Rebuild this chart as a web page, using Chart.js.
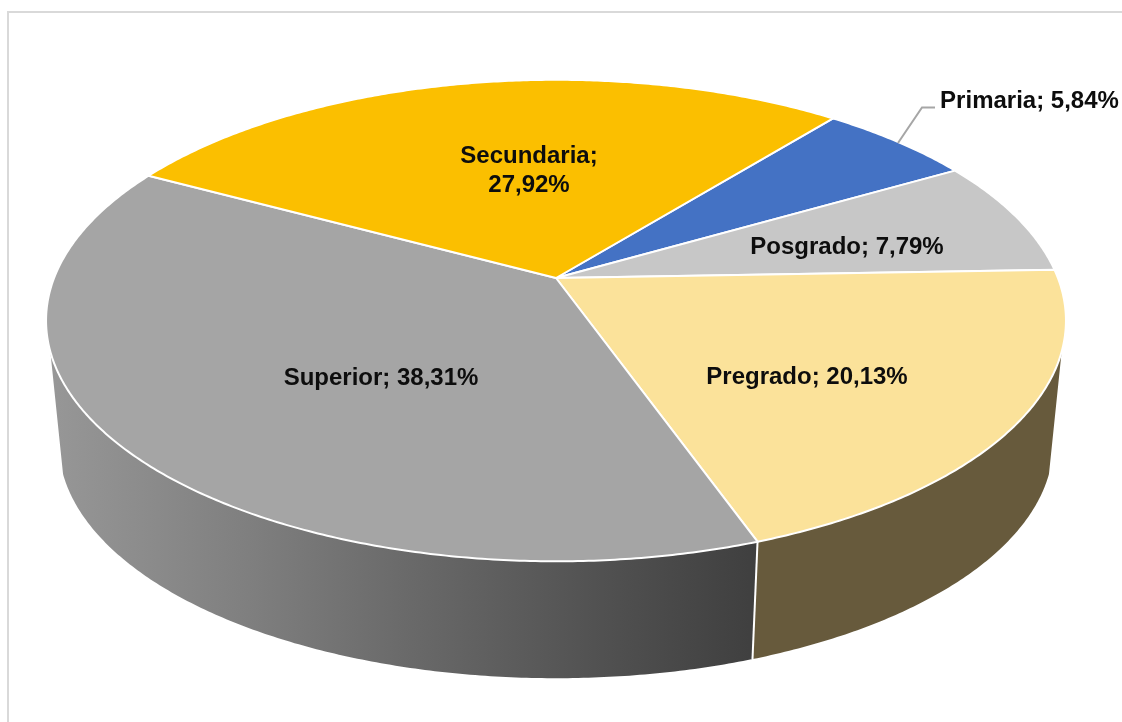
<!DOCTYPE html>
<html>
<head>
<meta charset="utf-8">
<style>html,body{margin:0;padding:0;background:#fff}canvas{display:block}</style>
<script src="https://cdn.jsdelivr.net/npm/chart.js@4"></script>
</head>
<body>
<canvas id="c" width="1122" height="722"></canvas>
<script>
const categories = ['Primaria', 'Posgrado', 'Pregrado', 'Superior', 'Secundaria'];
const shares = [5.84, 7.79, 20.13, 38.31, 27.92];
const topColors = ['#4472c4', '#c7c7c7', '#fbe29a', '#a5a5a5', '#fbbf00'];
const wallColors = ['#2f528f', '#858585', '#675a3c', null, '#b08600'];
const superiorWallStops = [[0, '#979797'], [0.28, '#7f7f7f'], [0.5, '#6a6a6a'], [0.78, '#515151'], [1, '#3f3f3f']];
const labelRows = [[101], [247], [377], [378], [156, 185]];
const labelCentersX = [1029.5, 847, 807, 381, 529];

// Perspective view of the pie disc
const view = {xScale: 1.812, yScale: 0.842, tilt: -0.1767,
               floorScale: 0.975, floorDrop: 124, rimLimit: 0.3};

function project(arc, angle, floor) {
  const u = Math.cos(angle), v = Math.sin(angle), w = 1 + view.tilt * v;
  const R = arc.outerRadius, s = floor ? view.floorScale : 1;
  return {
    x: arc.x + s * R * view.xScale * u / w,
    y: arc.y + (floor ? view.floorDrop : 0) + s * R * view.yScale * v / w
  };
}
function arcPoints(arc, a0, a1, floor) {
  const n = Math.max(2, Math.ceil(Math.abs(a1 - a0) / (Math.PI / 360)));
  const pts = [];
  for (let i = 0; i <= n; i++) pts.push(project(arc, a0 + (a1 - a0) * i / n, floor));
  return pts;
}
function tracePath(ctx, pts) {
  pts.forEach((p, i) => i ? ctx.lineTo(p.x, p.y) : ctx.moveTo(p.x, p.y));
  ctx.closePath();
}
function pctText(v) { return v.toFixed(2).replace('.', ',') + '%'; }

const pie3d = {
  id: 'pie3d',
  beforeDraw(chart) {
    const ctx = chart.ctx;
    ctx.save();
    ctx.fillStyle = '#fff';
    ctx.fillRect(0, 0, chart.width, chart.height);
    ctx.strokeStyle = '#d9d9d9';
    ctx.lineWidth = 2;
    ctx.beginPath();
    ctx.moveTo(8, chart.height);
    ctx.lineTo(8, 12);
    ctx.lineTo(chart.width, 12);
    ctx.stroke();
    ctx.restore();
  },
  beforeDatasetsDraw(chart) {
    const ctx = chart.ctx, arcs = chart.getDatasetMeta(0).data;
    const tau = Math.PI * 2;
    // visible front wall lies between the two silhouette generators
    const lim = Math.asin(view.rimLimit);
    const wallFrom = lim, wallTo = Math.PI - lim;
    ctx.save();
    ctx.lineJoin = 'round';
    arcs.forEach((arc, i) => {
      for (const turn of [-tau, 0, tau]) {
        const start = arc.startAngle + turn, end = arc.endAngle + turn;
        const a0 = Math.max(start, wallFrom);
        const a1 = Math.min(end, wallTo);
        if (a1 <= a0) continue;
        const rim = arcPoints(arc, a0, a1, false);
        const floor = arcPoints(arc, a1, a0, true);
        ctx.beginPath();
        tracePath(ctx, rim.concat(floor));
        let fill = wallColors[i];
        if (!fill) {
          const xs = rim.concat(floor).map(p => p.x);
          const g = ctx.createLinearGradient(Math.min(...xs), 0, Math.max(...xs), 0);
          superiorWallStops.forEach(s => g.addColorStop(s[0], s[1]));
          fill = g;
        }
        ctx.fillStyle = fill;
        ctx.fill();
      }
    });
    // white seams between wall segments
    arcs.forEach(arc => {
      for (const turn of [-tau, 0, tau]) {
        const a = arc.startAngle + turn;
        if (a <= wallFrom || a >= wallTo) continue;
        const p = project(arc, a, false), q = project(arc, a, true);
        ctx.beginPath();
        ctx.moveTo(p.x, p.y);
        ctx.lineTo(q.x, q.y);
        ctx.strokeStyle = arc.options.borderColor;
        ctx.lineWidth = arc.options.borderWidth;
        ctx.stroke();
      }
    });
    arcs.forEach((arc, i) => {
      const pts = [{x: arc.x, y: arc.y}].concat(arcPoints(arc, arc.startAngle, arc.endAngle, false));
      ctx.beginPath();
      tracePath(ctx, pts);
      ctx.fillStyle = arc.options.backgroundColor;
      ctx.fill();
      ctx.strokeStyle = arc.options.borderColor;
      ctx.lineWidth = arc.options.borderWidth;
      ctx.stroke();
    });
    ctx.restore();
    return false;
  },
  afterDraw(chart) {
    const ctx = chart.ctx;
    ctx.save();
    // leader line of the Primaria label
    ctx.strokeStyle = '#a6a6a6';
    ctx.lineWidth = 2;
    ctx.beginPath();
    ctx.moveTo(898, 143);
    ctx.lineTo(922, 107.5);
    ctx.lineTo(935, 107.5);
    ctx.stroke();
    ctx.fillStyle = '#0d0d0d';
    ctx.font = 'bold 24px "Liberation Sans", Arial, sans-serif';
    ctx.textAlign = 'center';
    ctx.textBaseline = 'middle';
    categories.forEach((name, i) => {
      const rows = labelRows[i], x = labelCentersX[i];
      if (rows.length === 2) {
        ctx.fillText(name + ';', x, rows[0]);
        ctx.fillText(pctText(shares[i]), x, rows[1]);
      } else {
        ctx.fillText(name + '; ' + pctText(shares[i]), x, rows[0]);
      }
    });
    ctx.restore();
  }
};

new Chart(document.getElementById('c'), {
  type: 'pie',
  data: {
    labels: categories,
    datasets: [{
      data: shares,
      backgroundColor: topColors,
      borderColor: '#ffffff',
      borderWidth: 2
    }]
  },
  options: {
    responsive: false,
    animation: false,
    rotation: 38.9,
    layout: {padding: {left: 0, right: 10, top: 0, bottom: 166}},
    plugins: {legend: {display: false}, tooltip: {enabled: false}}
  },
  plugins: [pie3d]
});
</script>
</body>
</html>
